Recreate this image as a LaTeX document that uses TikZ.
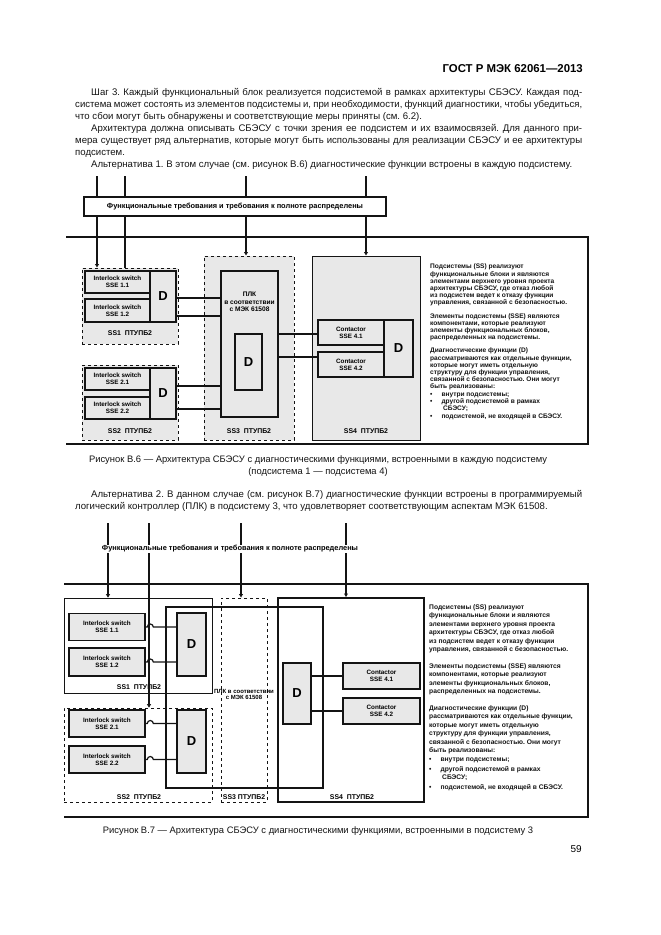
\documentclass[tikz,border=0pt]{standalone}
\usepackage{fontspec}
\setmainfont{Liberation Sans}
\usetikzlibrary{arrows.meta,positioning}
\definecolor{boxgray}{HTML}{E8E8E8}
\definecolor{ink}{HTML}{141414}
\frenchspacing

\newcommand{\jline}[2]{\hbox to #1{#2}}

\begin{document}
\begin{tikzpicture}[x=1pt,y=-1pt,
    body/.style={anchor=base west, inner sep=0pt, text=ink, font=\fontsize{9.6}{12}\selectfont},
    figcap/.style={anchor=base, inner sep=0pt, text=ink, font=\fontsize{9.4}{12}\selectfont},
    ssbox/.style={draw=ink, dashed, line width=0.9pt, fill=boxgray, inner sep=0pt},
    ssebox/.style={draw=ink, line width=1.6pt, fill=boxgray, inner sep=0pt, align=center, font=\bfseries\fontsize{6.3}{6.8}\selectfont},
    dbox/.style={draw=ink, line width=1.6pt, fill=boxgray, inner sep=0pt, font=\bfseries\fontsize{13}{13}\selectfont},
    plcbox/.style={draw=ink, line width=1.8pt, fill=boxgray, inner sep=0pt},
    sslabel/.style={inner sep=0pt, font=\bfseries\fontsize{6.9}{7}\selectfont},
    reqtext/.style={font=\bfseries\fontsize{7.4}{8}\selectfont},
    note/.style={anchor=north west, inner sep=0pt, align=left, text=ink},
    feed/.style={draw=ink, line width=1.7pt},
    inarrow/.style={feed, -{Triangle[length=3.5pt,width=3.8pt]}},
    frame/.style={draw=ink, line width=1.8pt}
]
\useasboundingbox (0,0) rectangle (661,935);
\fill[white] (0,0) rectangle (661,935);

% page text
\node[anchor=base east, inner sep=0pt, font=\bfseries\fontsize{11.4}{12}\selectfont] (head) at (583,72) {ГОСТ Р МЭК 62061—2013};
\node[body] (p1a) at (91,95) {\jline{491pt}{Шаг 3. Каждый функциональный блок реализуется подсистемой в рамках архитектуры СБЭСУ. Каждая под-}};
\node[body] (p1b) at (75,107) {\jline{507pt}{система может состоять из элементов подсистемы и, при необходимости, функций диагностики, чтобы убедиться,}};
\node[body] (p1c) at (75,119) {что сбои могут быть обнаружены и соответствующие меры приняты (см. 6.2).};
\node[body] (p2a) at (91,131) {\jline{491pt}{Архитектура должна описывать СБЭСУ с точки зрения ее подсистем и их взаимосвязей. Для данного при-}};
\node[body] (p2b) at (75,143) {\jline{507pt}{мера существует ряд альтернатив, которые могут быть использованы для реализации СБЭСУ и ее архитектуры}};
\node[body] (p2c) at (75,155) {подсистем.};
\node[body] (p3a) at (91,167) {Альтернатива 1. В этом случае (см. рисунок В.6) диагностические функции встроены в каждую подсистему.};

% ---- figure B.6
\draw[frame] (66,237) -- (588,237) -- (588,444) -- (66,444);

% subsystem 1
\node[ssbox, minimum width=96, minimum height=76] (ss1) at (130,306) {};
\node[ssebox, minimum width=65, minimum height=22] (sse11) at (117.5,282) {Interlock switch\\SSE 1.1};
\node[ssebox, minimum width=65, minimum height=23] (sse12) at (117.5,310.5) {Interlock switch\\SSE 1.2};
\node[dbox, minimum width=26, minimum height=51] (d1) at (163,296.5) {D};
\node[sslabel] (ss1l) at (130,333) {SS1 \ ПТУПБ2};
% subsystem 2
\node[ssbox, minimum width=96, minimum height=75] (ss2) at (130,402.5) {};
\node[ssebox, minimum width=65, minimum height=22] (sse21) at (117.5,379) {Interlock switch\\SSE 2.1};
\node[ssebox, minimum width=65, minimum height=22] (sse22) at (117.5,408) {Interlock switch\\SSE 2.2};
\node[dbox, minimum width=26, minimum height=51] (d2) at (163,393.5) {D};
\node[sslabel] (ss2l) at (130,431) {SS2 \ ПТУПБ2};
% subsystem 3
\node[ssbox, minimum width=90, minimum height=184] (ss3) at (249,348) {};
\node[plcbox, minimum width=57, minimum height=146] (plc1) at (249.5,344) {};
\node[align=center, inner sep=0pt, font=\bfseries\fontsize{6.6}{7.4}\selectfont] (plct) at (249.5,302) {ПЛК\\в соответствии\\с МЭК 61508};
\node[dbox, minimum width=27, minimum height=56] (d3) at (248.5,362) {D};
\node[sslabel] (ss3l) at (249,431) {SS3 \ ПТУПБ2};
% subsystem 4
\node[draw=ink, line width=0.9pt, fill=boxgray, inner sep=0pt, minimum width=108, minimum height=184] (ss4) at (366,348) {};
\node[ssebox, minimum width=66, minimum height=25] (sse41) at (351,332.5) {Contactor\\SSE 4.1};
\node[ssebox, minimum width=66, minimum height=25] (sse42) at (351,364.5) {Contactor\\SSE 4.2};
\node[dbox, minimum width=29, minimum height=57] (d4) at (398.5,348.5) {D};
\node[sslabel] (ss4l) at (366,431) {SS4 \ ПТУПБ2};

% requirement feeds
\coordinate (t1) at (97,176);
\coordinate (t2) at (125,176);
\coordinate (t3) at (246,176);
\coordinate (t4) at (366,176);
\draw[inarrow] (t1) -- (t1 |- ss1.north);
\draw[feed] (t2) -- (t2 |- ss1.north);
\draw[inarrow] (t3) -- (t3 |- ss3.north);
\draw[inarrow] (t4) -- (t4 |- ss4.north);
\node[draw=ink, line width=1.8pt, fill=white, minimum width=302, minimum height=19, inner sep=0pt, reqtext] (req1) at (235,206.5) {Функциональные требования и требования к полноте распределены};

% links
\draw[feed] ([yshift=-1.5pt]d1.east) coordinate (a1) -- (a1 -| plc1.west);
\draw[feed] ([yshift=-19.5pt]d1.east) coordinate (a2) -- (a2 -| plc1.west);
\draw[feed] ([yshift=7.5pt]d2.east) coordinate (a3) -- (a3 -| plc1.west);
\draw[feed] ([yshift=-15.5pt]d2.east) coordinate (a4) -- (a4 -| plc1.west);
\draw[feed] ([yshift=-1.5pt]sse41.west) coordinate (b1) -- (b1 -| plc1.east);
\draw[feed] ([yshift=7.5pt]sse42.west) coordinate (b2) -- (b2 -| plc1.east);

\node[note, font=\bfseries\fontsize{6.6}{7.2}\selectfont] (n1) at (430,264) {%
Подсистемы (SS) реализуют\\функциональные блоки и являются\\элементами верхнего уровня проекта\\архитектуры СБЭСУ, где отказ любой\\из подсистем ведет к отказу функции\\управления, связанной с безопасностью.\\[6pt]
Элементы подсистемы (SSE) являются\\компонентами, которые реализуют\\элементы функциональных блоков,\\распределенных на подсистемы.\\[6pt]
Диагностические функции (D)\\рассматриваются как отдельные функции,\\которые могут иметь отдельную\\структуру для функции управления,\\связанной с безопасностью. Они могут\\быть реализованы:\\
•\hspace{9pt}внутри подсистемы;\\
•\hspace{9pt}другой подсистемой в рамках\\\hspace*{13pt}СБЭСУ;\\[1pt]
•\hspace{9pt}подсистемой, не входящей в СБЭСУ.};

\node[figcap] (c6a) at (318,462) {Рисунок В.6 — Архитектура СБЭСУ с диагностическими функциями, встроенными в каждую подсистему};
\node[figcap] (c6b) at (318,474) {(подсистема 1 — подсистема 4)};

\node[body] (p4a) at (91,497) {\jline{491pt}{Альтернатива 2. В данном случае (см. рисунок В.7) диагностические функции встроены в программируемый}};
\node[body] (p4b) at (75,509) {логический контроллер (ПЛК) в подсистему 3, что удовлетворяет соответствующим аспектам МЭК 61508.};

% ---- figure B.7
\draw[frame] (64,584) -- (588,584) -- (588,817) -- (64,817);

\node[draw=ink, line width=0.6pt, inner sep=0pt, minimum width=148, minimum height=95] (ss1b) at (138,645.5) {};
\node[draw=ink, dashed, line width=0.6pt, inner sep=0pt, minimum width=148, minimum height=94] (ss2b) at (138,755) {};
\node[draw=ink, dashed, line width=0.9pt, inner sep=0pt, minimum width=46, minimum height=204] (ss3b) at (244,700) {};
\node[draw=ink, line width=2pt, inner sep=0pt, minimum width=146, minimum height=204] (ss4b) at (351,700) {};
\node[draw=ink, line width=1.8pt, inner sep=0pt, minimum width=157, minimum height=181] (plc2) at (244.5,697.5) {};

\node[ssebox, minimum width=76, minimum height=27] (sse11b) at (107,627) {Interlock switch\\SSE 1.1};
\node[ssebox, minimum width=76, minimum height=28] (sse12b) at (107,662) {Interlock switch\\SSE 1.2};
\node[dbox, minimum width=29, minimum height=63] (d1b) at (191.5,644.5) {D};
\node[sslabel] (ss1bl) at (139,687) {SS1 \ ПТУПБ2};

\node[ssebox, minimum width=76, minimum height=27] (sse21b) at (107,723.5) {Interlock switch\\SSE 2.1};
\node[ssebox, minimum width=76, minimum height=27] (sse22b) at (107,759.5) {Interlock switch\\SSE 2.2};
\node[dbox, minimum width=29, minimum height=63] (d2b) at (191.5,741.5) {D};
\node[sslabel] (ss2bl) at (139,797) {SS2 \ ПТУПБ2};

\node[align=center, inner sep=0pt, font=\bfseries\fontsize{6}{6.6}\selectfont] (plct2) at (244,694.5) {ПЛК в соответствии\\с МЭК 61508};
\node[sslabel, fill=white, inner sep=0.5pt] (ss3bl) at (244,797) {SS3 ПТУПБ2};

\node[dbox, minimum width=28, minimum height=61] (d4b) at (297,693.5) {D};
\node[ssebox, minimum width=77, minimum height=26] (sse41b) at (381.5,676) {Contactor\\SSE 4.1};
\node[ssebox, minimum width=77, minimum height=26] (sse42b) at (381.5,711) {Contactor\\SSE 4.2};
\node[sslabel] (ss4bl) at (352,797) {SS4 \ ПТУПБ2};

\coordinate (u1) at (108,523);
\coordinate (u2) at (149,523);
\coordinate (u3) at (241,523);
\coordinate (u4) at (346,523);
\draw[inarrow] (u1) -- (u1 |- ss1b.north);
\draw[inarrow] (u2) -- (u2 |- ss2b.north);
\draw[inarrow] (u3) -- (u3 |- ss3b.north);
\draw[inarrow] (u4) -- (u4 |- ss4b.north);
\node[inner sep=0.5pt, fill=white, reqtext] (req2) at (230,549) {Функциональные требования и требования к полноте распределены};

% links with hop over feed line
\foreach \src/\dst in {sse11b/d1b, sse12b/d1b, sse21b/d2b, sse22b/d2b}
  \draw[draw=ink, line width=1.2pt] (\src.east) -- ++(1.5,0) arc[start angle=180, end angle=0, radius=3pt] -- (\src.east -| \dst.west);
\draw[feed] (sse41b.west) -- (sse41b.west -| d4b.east);
\draw[feed] (sse42b.west) -- (sse42b.west -| d4b.east);

\node[note, font=\fontsize{6.7}{8.5}\selectfont\bfseries] (n2) at (429,604) {%
Подсистемы (SS) реализуют\\функциональные блоки и являются\\элементами верхнего уровня проекта\\архитектуры СБЭСУ, где отказ любой\\из подсистем ведет к отказу функции\\управления, связанной с безопасностью.\\[8pt]
Элементы подсистемы (SSE) являются\\компонентами, которые реализуют\\элементы функциональных блоков,\\распределенных на подсистемы.\\[8pt]
Диагностические функции (D)\\рассматриваются как отдельные функции,\\которые могут иметь отдельную\\структуру для функции управления,\\связанной с безопасностью. Они могут\\быть реализованы:\\
•\hspace{9pt}внутри подсистемы;\\[1.5pt]
•\hspace{9pt}другой подсистемой в рамках\\\hspace*{13pt}СБЭСУ;\\[1.5pt]
•\hspace{9pt}подсистемой, не входящей в СБЭСУ.};

\node[figcap] (c7) at (318,833) {Рисунок В.7 — Архитектура СБЭСУ с диагностическими функциями, встроенными в подсистему 3};
\node[anchor=base east, inner sep=0pt, font=\fontsize{10}{12}\selectfont] (pnum) at (582,852) {59};
\end{tikzpicture}
\end{document}
